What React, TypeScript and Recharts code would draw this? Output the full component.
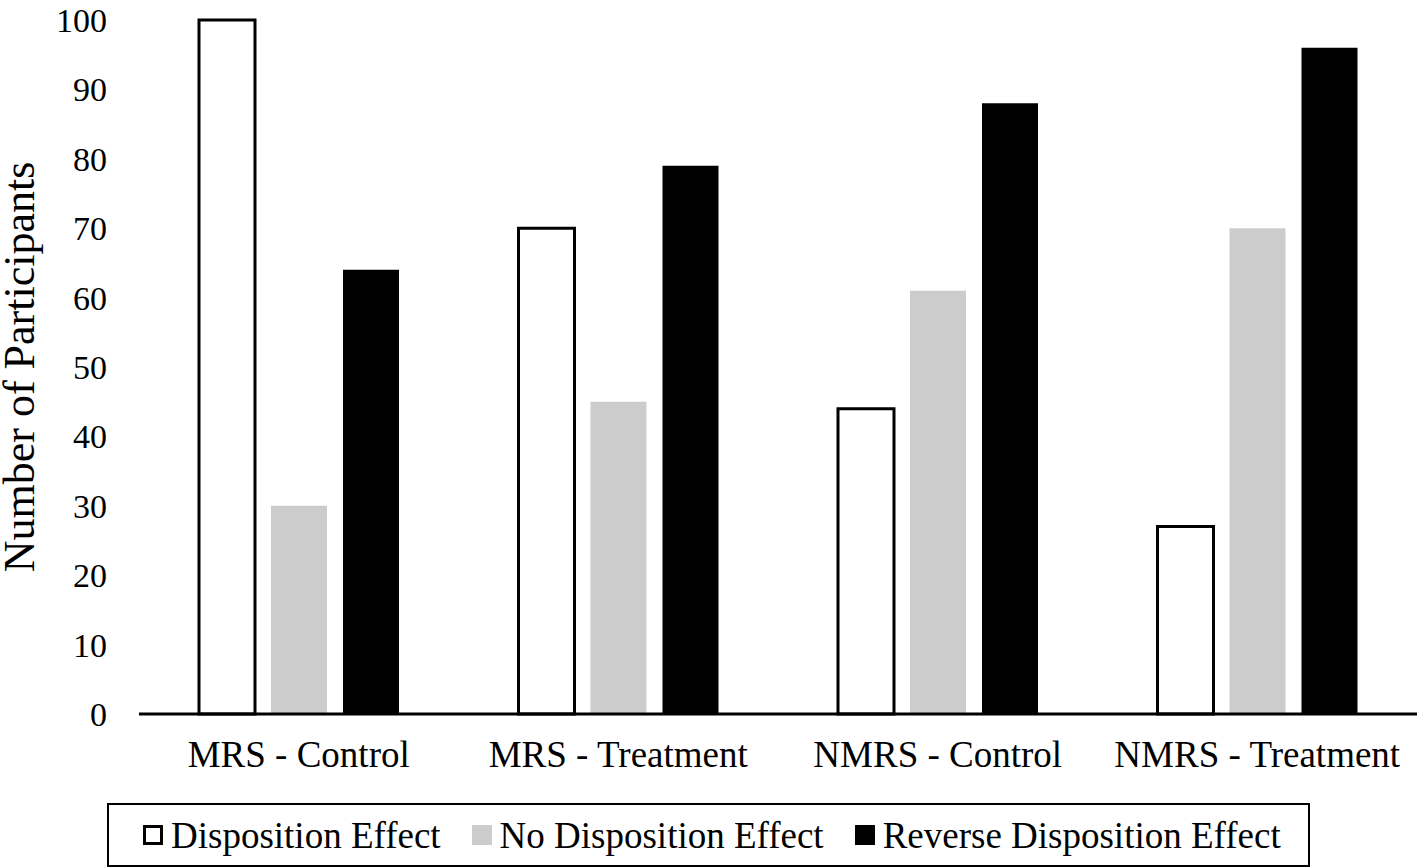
import { BarChart, Bar, XAxis, YAxis, Legend, Label } from "recharts";

const categories = ["MRS - Control", "MRS - Treatment", "NMRS - Control", "NMRS - Treatment"];
const dispositionEffect = [100, 70, 44, 27];
const noDispositionEffect = [30, 45, 61, 70];
const reverseDispositionEffect = [64, 79, 88, 96];
const yTicks = [0, 10, 20, 30, 40, 50, 60, 70, 80, 90, 100];

const seriesNames = ["Disposition Effect", "No Disposition Effect", "Reverse Disposition Effect"];
const seriesFills = ["#ffffff", "#cccccc", "#000000"];

const FONT = '"Liberation Serif", "Times New Roman", serif';

const data = categories.map((c, i) => ({
  category: c,
  de: dispositionEffect[i],
  nde: noDispositionEffect[i],
  rde: reverseDispositionEffect[i],
}));

function LegendBox({ payload }: { payload?: any[] }) {
  return (
    <div
      style={{
        boxSizing: "border-box",
        border: "2px solid #000",
        height: 64,
        display: "flex",
        alignItems: "center",
        paddingLeft: 34,
        gap: 31,
        fontFamily: FONT,
        fontSize: 37,
        color: "#000",
        background: "#fff",
      }}
    >
      {(payload || []).map((entry, i) => (
        <div key={entry.value} style={{ display: "flex", alignItems: "center", gap: 8 }}>
          <span
            style={{
              display: "inline-block",
              boxSizing: "border-box",
              width: 20,
              height: 20,
              background: seriesFills[i],
              border: i === 0 ? "3px solid #000" : "none",
            }}
          />
          <span style={{ lineHeight: 1 }}>{entry.value}</span>
        </div>
      ))}
    </div>
  );
}

export default function App() {
  return (
    <div style={{ position: "absolute", left: 0, top: 0, background: "#fff" }}>
      <BarChart
        width={1421}
        height={867}
        data={data}
        margin={{ top: 20, right: 4, bottom: 123, left: 0 }}
        barSize={56}
        barGap={16}
      >
        <XAxis
          dataKey="category"
          height={30}
          axisLine={{ stroke: "#000", strokeWidth: 3 }}
          tickLine={false}
          tickSize={0}
          tickMargin={27}
          tick={{ fill: "#000", fontSize: 37, fontFamily: FONT }}
          interval={0}
        />
        <YAxis
          width={139}
          domain={[0, 100]}
          ticks={yTicks}
          axisLine={false}
          tickLine={false}
          tickSize={0}
          tickMargin={32}
          tick={{ fill: "#000", fontSize: 34, fontFamily: FONT }}
        >
          <Label
            value="Number of Participants"
            angle={-90}
            position="insideLeft"
            offset={18}
            style={{ textAnchor: "middle", fontSize: 44, fontFamily: FONT, fill: "#000" }}
          />
        </YAxis>
        <Legend
          layout="horizontal"
          verticalAlign="middle"
          align="center"
          wrapperStyle={{ left: 107, top: 803, width: 1203, height: 64 }}
          content={(props: any) => <LegendBox payload={props.payload} />}
        />
        <Bar
          dataKey="de"
          name={seriesNames[0]}
          fill={seriesFills[0]}
          stroke="#000"
          strokeWidth={3}
          isAnimationActive={false}
        />
        <Bar dataKey="nde" name={seriesNames[1]} fill={seriesFills[1]} isAnimationActive={false} />
        <Bar dataKey="rde" name={seriesNames[2]} fill={seriesFills[2]} isAnimationActive={false} />
      </BarChart>
    </div>
  );
}
